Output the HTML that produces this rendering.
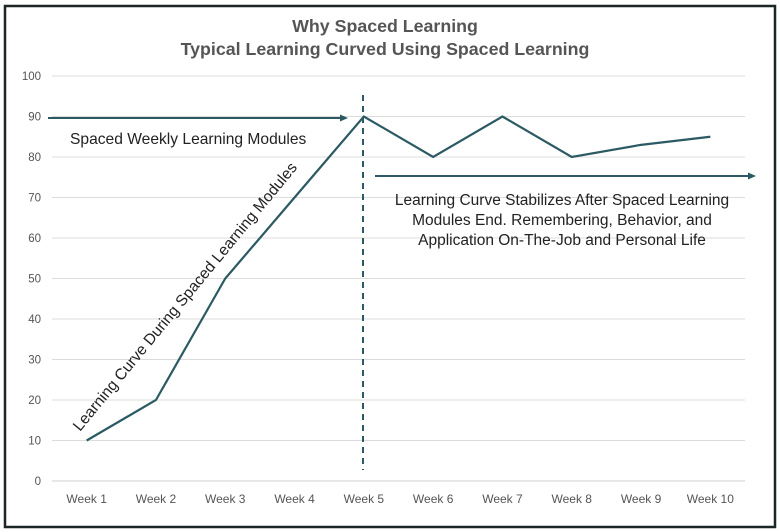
<!DOCTYPE html>
<html><head><meta charset="utf-8"><style>
body{margin:0;background:#fff;}
svg{display:block;font-family:"Liberation Sans",sans-serif;}
</style></head><body>
<svg id="chart" width="780" height="532">
<rect x="5" y="6" width="770" height="521" fill="#fff" stroke="#1c2626" stroke-width="2.5"/>
<text x="385" y="32" text-anchor="middle" font-size="17.8" font-weight="bold" fill="#555">Why Spaced Learning</text>
<text x="385" y="55" text-anchor="middle" font-size="17.8" font-weight="bold" fill="#555">Typical Learning Curved Using Spaced Learning</text>
<g id="grid"></g><g id="yt"></g><g id="xt"></g><g id="series"></g>
<line x1="363" y1="95" x2="363" y2="470" stroke="#2b5a63" stroke-width="2" stroke-dasharray="6,5"/>
<line x1="48" y1="118" x2="342" y2="118" stroke="#2b5a63" stroke-width="2"/>
<polygon points="348,118 340,114.5 340,121.5" fill="#2b5a63"/>
<line x1="375" y1="176" x2="750" y2="176" stroke="#2b5a63" stroke-width="2"/>
<polygon points="756,176 748,172.5 748,179.5" fill="#2b5a63"/>
<text x="70" y="144" font-size="15.6" fill="#222">Spaced Weekly Learning Modules</text>
<g font-size="15.5" fill="#222" text-anchor="middle">
<text x="562" y="205">Learning Curve Stabilizes After  Spaced Learning</text>
<text x="562" y="225">Modules End. Remembering, Behavior, and</text>
<text x="562" y="245">Application On-The-Job and Personal Life</text>
</g>
<text x="0" y="0" font-size="15.6" fill="#222" transform="translate(80,432) rotate(-50.5)">Learning Curve During Spaced Learning Modules</text>
</svg>
<script>
const categories=["Week 1","Week 2","Week 3","Week 4","Week 5","Week 6","Week 7","Week 8","Week 9","Week 10"];
const values=[10,20,50,70,90,80,90,80,83,85];
const yTicks=[0,10,20,30,40,50,60,70,80,90,100];
const NS="http://www.w3.org/2000/svg";
const x0=52,x1=745,yTop=76,yBot=481;
const xs=i=>x0+(x1-x0)/categories.length*(i+0.5);
const ys=v=>yBot-(v/100)*(yBot-yTop);
function mk(t,a,p){const e=document.createElementNS(NS,t);for(const k in a)e.setAttribute(k,a[k]);p.appendChild(e);return e;}
const grid=document.getElementById('grid'),yt=document.getElementById('yt'),xt=document.getElementById('xt'),ser=document.getElementById('series');
yTicks.forEach(v=>{
 const l=mk('line',{x1:x0,x2:x1,y1:ys(v),y2:ys(v),stroke:v===0?'#cfcfcf':'#dcdcdc','stroke-width':1},grid);
 
 
 const t=mk('text',{x:41,y:ys(v)+4,'text-anchor':'end','font-size':11.5,fill:'#555'},yt);
 t.textContent=v;
 
 
});
categories.forEach((c,i)=>{
 const t=mk('text',{x:xs(i),y:503,'text-anchor':'middle','font-size':12,fill:'#555'},xt);
 t.textContent=c;
 
 
});
const p=mk('polyline',{points:values.map((v,i)=>xs(i)+','+ys(v)).join(' '),fill:'none',stroke:'#2b5a63','stroke-width':2.2,'stroke-linejoin':'miter'},ser);


</script>
</body></html>
